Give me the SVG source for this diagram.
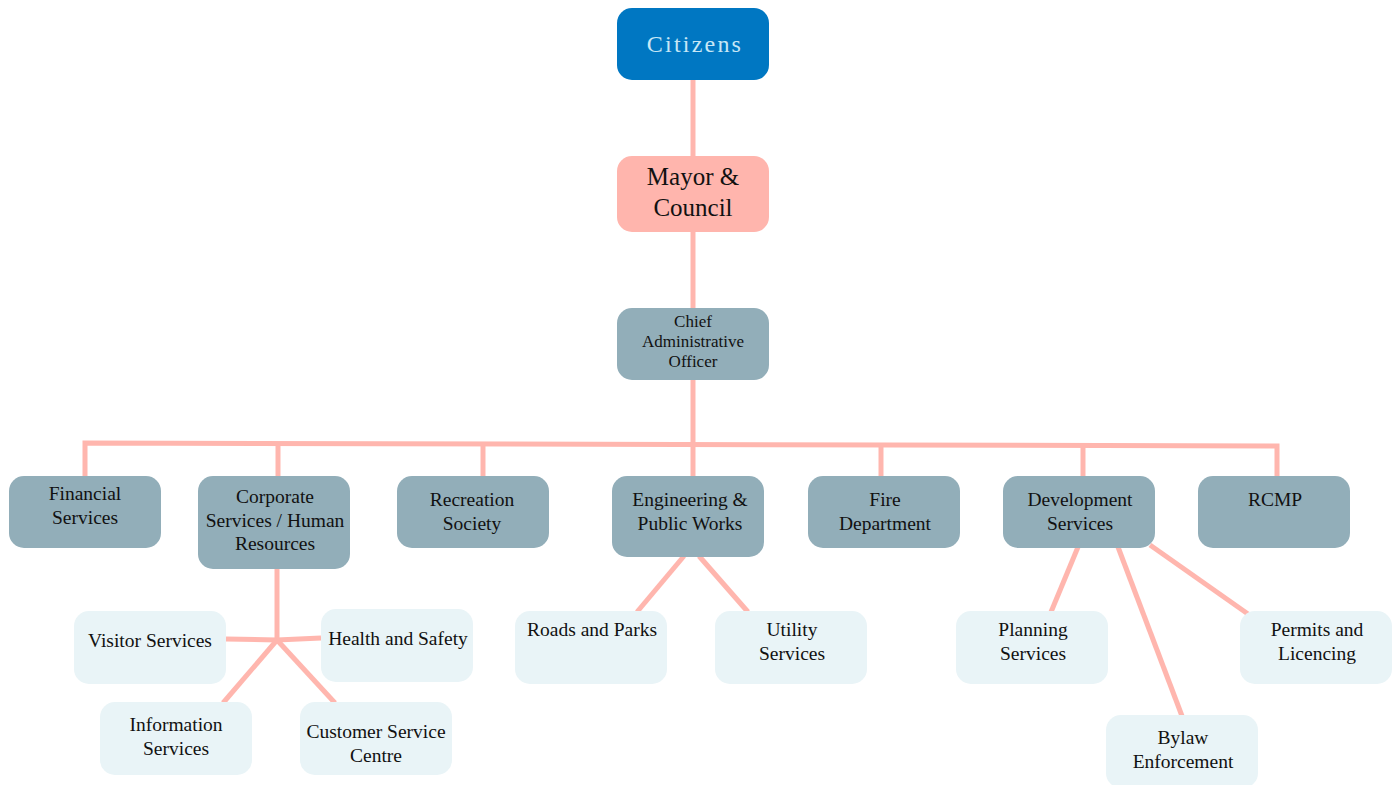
<svg xmlns="http://www.w3.org/2000/svg" width="1397" height="785" viewBox="0 0 1397 785">
<style>
.t{font-family:"Liberation Serif","Times New Roman",serif;fill:#111;text-anchor:middle}
.m{font-size:19.5px}
.s{font-size:17px}
.dk{fill:#92AEB9}
.lt{fill:#E9F4F7}
.c{stroke:#FFB6AE;stroke-width:5;fill:none}
</style>
<rect width="1397" height="785" fill="#fff"/>
<g id="connectors">
<line class="c" x1="693" y1="80" x2="693" y2="156"/>
<line class="c" x1="693" y1="232" x2="693" y2="308"/>
<line class="c" x1="693" y1="380" x2="693" y2="476"/>
<polyline class="c" points="85,476 85,443 1277,446 1277,476"/>
<line class="c" x1="278" y1="444" x2="278" y2="476"/>
<line class="c" x1="483" y1="444" x2="483" y2="476"/>
<line class="c" x1="881" y1="445" x2="881" y2="476"/>
<line class="c" x1="1083" y1="445" x2="1083" y2="476"/>
<line class="c" x1="277" y1="569" x2="277" y2="640"/>
<line class="c" x1="226" y1="639" x2="277" y2="640"/>
<line class="c" x1="277" y1="640" x2="321" y2="638"/>
<line class="c" x1="277" y1="640" x2="223" y2="703"/>
<line class="c" x1="277" y1="640" x2="335" y2="703"/>
<line class="c" x1="684" y1="556" x2="637" y2="612"/>
<line class="c" x1="699" y1="556" x2="748" y2="612"/>
<line class="c" x1="1078" y1="547" x2="1051" y2="612"/>
<line class="c" x1="1118" y1="547" x2="1182" y2="716"/>
<line class="c" x1="1150" y1="545" x2="1248" y2="614"/>
</g>
<g id="citizens">
<rect x="617" y="8" width="152" height="72" rx="15" fill="#0077C2"/>
<text class="t" x="695" y="52" style="font-size:24px;fill:#C7E7F6;letter-spacing:2.2px">Citizens</text>
</g>
<g id="mayor-council">
<rect x="617" y="156" width="152" height="76" rx="15" fill="#FFB5AD"/>
<text class="t" x="693" y="185" style="font-size:25px">Mayor &amp;</text>
<text class="t" x="693" y="216" style="font-size:25px">Council</text>
</g>
<g id="cao">
<rect x="617" y="308" width="152" height="72" rx="15" class="dk"/>
<text class="t s" x="693" y="327">Chief</text>
<text class="t s" x="693" y="347">Administrative</text>
<text class="t s" x="693" y="367">Officer</text>
</g>
<g id="financial">
<rect x="9" y="476" width="152" height="72" rx="15" class="dk"/>
<text class="t m" x="85" y="500">Financial</text>
<text class="t m" x="85" y="524">Services</text>
</g>
<g id="corporate">
<rect x="198" y="476" width="152" height="93" rx="15" class="dk"/>
<text class="t m" x="275" y="503">Corporate</text>
<text class="t m" x="275" y="527">Services / Human</text>
<text class="t m" x="275" y="550">Resources</text>
</g>
<g id="recreation">
<rect x="397" y="476" width="152" height="72" rx="15" class="dk"/>
<text class="t m" x="472" y="506">Recreation</text>
<text class="t m" x="472" y="530">Society</text>
</g>
<g id="engineering">
<rect x="612" y="476" width="152" height="81" rx="15" class="dk"/>
<text class="t m" x="690" y="506">Engineering &amp;</text>
<text class="t m" x="690" y="530">Public Works</text>
</g>
<g id="fire">
<rect x="808" y="476" width="152" height="72" rx="15" class="dk"/>
<text class="t m" x="885" y="506">Fire</text>
<text class="t m" x="885" y="530">Department</text>
</g>
<g id="development">
<rect x="1003" y="476" width="152" height="72" rx="15" class="dk"/>
<text class="t m" x="1080" y="506">Development</text>
<text class="t m" x="1080" y="530">Services</text>
</g>
<g id="rcmp">
<rect x="1198" y="476" width="152" height="72" rx="15" class="dk"/>
<text class="t m" x="1275" y="506">RCMP</text>
</g>
<g id="visitor">
<rect x="74" y="611" width="152" height="73" rx="15" class="lt"/>
<text class="t m" x="150" y="647">Visitor Services</text>
</g>
<g id="health">
<rect x="321" y="609" width="152" height="73" rx="15" class="lt"/>
<text class="t m" x="398" y="645">Health and Safety</text>
</g>
<g id="information">
<rect x="100" y="702" width="152" height="73" rx="15" class="lt"/>
<text class="t m" x="176" y="731">Information</text>
<text class="t m" x="176" y="755">Services</text>
</g>
<g id="customer">
<rect x="300" y="702" width="152" height="73" rx="15" class="lt"/>
<text class="t m" x="376" y="738">Customer Service</text>
<text class="t m" x="376" y="762">Centre</text>
</g>
<g id="roads">
<rect x="515" y="611" width="152" height="73" rx="15" class="lt"/>
<text class="t m" x="592" y="636">Roads and Parks</text>
</g>
<g id="utility">
<rect x="715" y="611" width="152" height="73" rx="15" class="lt"/>
<text class="t m" x="792" y="636">Utility</text>
<text class="t m" x="792" y="660">Services</text>
</g>
<g id="planning">
<rect x="956" y="611" width="152" height="73" rx="15" class="lt"/>
<text class="t m" x="1033" y="636">Planning</text>
<text class="t m" x="1033" y="660">Services</text>
</g>
<g id="bylaw">
<rect x="1106" y="715" width="152" height="73" rx="15" class="lt"/>
<text class="t m" x="1183" y="744">Bylaw</text>
<text class="t m" x="1183" y="768">Enforcement</text>
</g>
<g id="permits">
<rect x="1240" y="611" width="152" height="73" rx="15" class="lt"/>
<text class="t m" x="1317" y="636">Permits and</text>
<text class="t m" x="1317" y="660">Licencing</text>
</g>
</svg>
